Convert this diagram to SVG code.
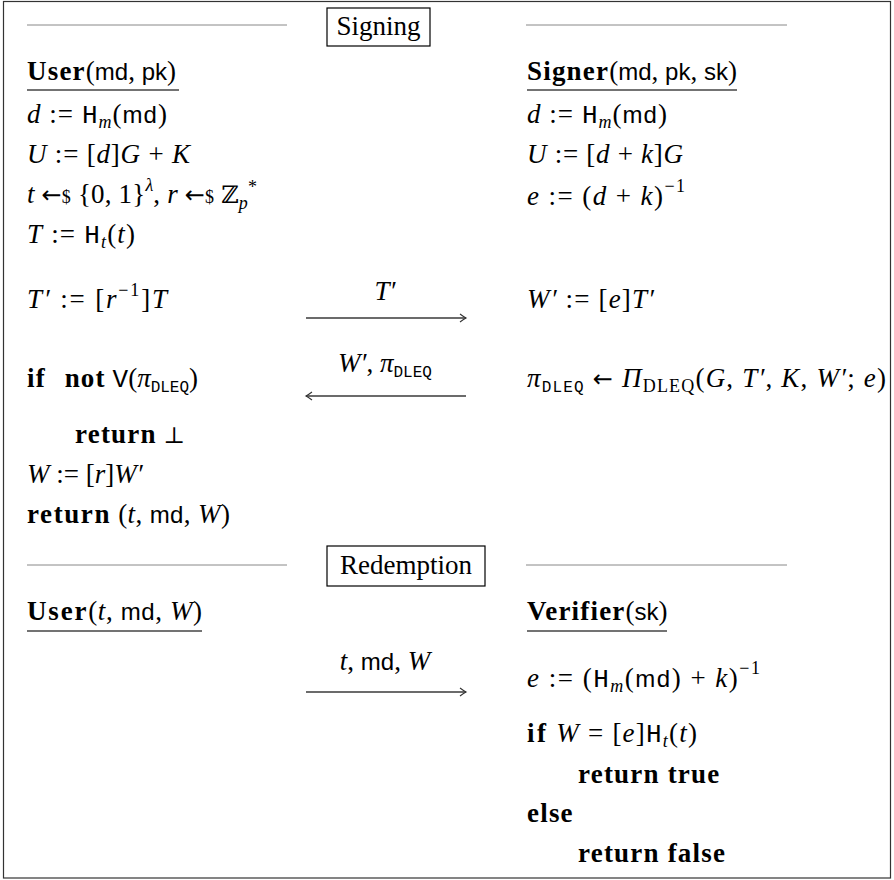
<svg xmlns="http://www.w3.org/2000/svg" width="894" height="880" viewBox="0 0 894 880">
<style>
.t{font-family:"Liberation Serif","DejaVu Serif",serif;font-size:27px;fill:#000}
.i{font-style:italic}
.b{font-weight:bold;letter-spacing:1.2px}
.sf{font-family:"Liberation Sans","DejaVu Sans",sans-serif;font-size:24px;font-style:normal}
.tt{font-family:"Liberation Mono","DejaVu Sans Mono",monospace;font-size:26px;font-style:normal}
.s{font-size:18px}
.ts{font-family:"Liberation Mono","DejaVu Sans Mono",monospace;font-size:16px;font-style:normal}
.bb{font-family:"DejaVu Serif",serif;font-size:24px}
.ar{font-family:"DejaVu Sans",sans-serif;font-size:24px;font-style:normal}
.sep{stroke:#888;stroke-width:1}
.ul{stroke:#444;stroke-width:1.4}
.box{fill:none;stroke:#000;stroke-width:1.2}
.arr{stroke:#3a3a3a;stroke-width:1.5;fill:none}
</style>
<defs>
<marker id="ah" viewBox="-8 -5 10 10" refX="0" refY="0" markerWidth="10" markerHeight="10" markerUnits="userSpaceOnUse" orient="auto">
<path d="M-6,-4 Q-2,-1 0,0 Q-2,1 -6,4" fill="none" stroke="#333" stroke-width="1.1"/>
</marker>
</defs>
<rect x="3.5" y="1.5" width="887" height="876.5" fill="#fff" stroke="#333" stroke-width="1.2"/>

<g id="header-signing">
<line class="sep" x1="27" y1="25" x2="287" y2="25"/>
<rect class="box" x="327" y="8" width="103" height="38"/>
<text class="t" x="378.5" y="35" text-anchor="middle">Signing</text>
<line class="sep" x1="526" y1="25" x2="787" y2="25"/>
</g>

<g id="user-signing">
<text class="t" x="27" y="80"><tspan class="b">User</tspan>(<tspan class="sf">md</tspan>, <tspan class="sf">pk</tspan>)</text>
<line class="ul" x1="27" y1="90" x2="179" y2="90"/>
<text class="t" x="27" y="123" textLength="140"><tspan class="i">d</tspan> := <tspan class="tt">H</tspan><tspan class="i s" dy="5">m</tspan><tspan dy="-5">(</tspan><tspan class="sf">md</tspan>)</text>
<text class="t" x="27" y="163" textLength="163"><tspan class="i">U</tspan> := [<tspan class="i">d</tspan>]<tspan class="i">G</tspan> + <tspan class="i">K</tspan></text>
<text class="t" x="27" y="203" textLength="230"><tspan class="i">t</tspan> <tspan class="ar">←</tspan><tspan class="s">$</tspan> {0, 1}<tspan class="i s" dy="-12">λ</tspan><tspan dy="12">, </tspan><tspan class="i">r</tspan> <tspan class="ar">←</tspan><tspan class="s">$</tspan> <tspan class="bb">ℤ</tspan><tspan class="i s" dy="6">p</tspan><tspan class="s" dy="-16">*</tspan></text>
<text class="t" x="27" y="243" textLength="108"><tspan class="i">T</tspan> := <tspan class="tt">H</tspan><tspan class="i s" dy="5">t</tspan><tspan dy="-5">(</tspan><tspan class="i">t</tspan>)</text>
<text class="t" x="27" y="308" textLength="140"><tspan class="i">T′</tspan> := [<tspan class="i">r</tspan><tspan class="s" dy="-12">−1</tspan><tspan dy="12">]</tspan><tspan class="i">T</tspan></text>
<text class="t" x="27" y="387"><tspan class="b">if</tspan> <tspan class="b" dx="12">not</tspan> <tspan class="tt">V</tspan>(<tspan class="i">π</tspan><tspan class="ts" dy="5">DLEQ</tspan><tspan dy="-5">)</tspan></text>
<text class="t" x="75" y="443"><tspan class="b">return</tspan> <tspan font-family="DejaVu Serif" font-size="23">⊥</tspan></text>
<text class="t" x="27" y="483"><tspan class="i">W</tspan> := [<tspan class="i">r</tspan>]<tspan class="i">W′</tspan></text>
<text class="t" x="27" y="523" textLength="203"><tspan class="b">return</tspan> (<tspan class="i">t</tspan>, <tspan class="sf">md</tspan>, <tspan class="i">W</tspan>)</text>
</g>

<g id="signer-signing">
<text class="t" x="527" y="80"><tspan class="b">Signer</tspan>(<tspan class="sf">md</tspan>, <tspan class="sf">pk</tspan>, <tspan class="sf">sk</tspan>)</text>
<line class="ul" x1="527" y1="90" x2="737" y2="90"/>
<text class="t" x="527" y="123" textLength="140"><tspan class="i">d</tspan> := <tspan class="tt">H</tspan><tspan class="i s" dy="5">m</tspan><tspan dy="-5">(</tspan><tspan class="sf">md</tspan>)</text>
<text class="t" x="527" y="163" textLength="156"><tspan class="i">U</tspan> := [<tspan class="i">d</tspan> + <tspan class="i">k</tspan>]<tspan class="i">G</tspan></text>
<text class="t" x="527" y="205" textLength="158"><tspan class="i">e</tspan> := (<tspan class="i">d</tspan> + <tspan class="i">k</tspan>)<tspan class="s" dy="-13">−1</tspan></text>
<text class="t" x="527" y="308" textLength="127"><tspan class="i">W′</tspan> := [<tspan class="i">e</tspan>]<tspan class="i">T′</tspan></text>
<text class="t" x="527" y="387" textLength="359"><tspan class="i">π</tspan><tspan class="ts" dy="5">DLEQ</tspan><tspan dy="-5"> </tspan><tspan class="ar">←</tspan> <tspan class="i">Π</tspan><tspan class="s" dy="5">DLEQ</tspan><tspan dy="-5">(</tspan><tspan class="i">G</tspan>, <tspan class="i">T′</tspan>, <tspan class="i">K</tspan>, <tspan class="i">W′</tspan>; <tspan class="i">e</tspan>)</text>
</g>

<g id="header-redemption">
<line class="sep" x1="27" y1="565" x2="287" y2="565"/>
<rect class="box" x="327" y="546" width="158" height="40"/>
<text class="t" x="406" y="574" text-anchor="middle">Redemption</text>
<line class="sep" x1="526" y1="565" x2="787" y2="565"/>
</g>

<g id="user-redemption">
<text class="t" x="27" y="620" textLength="175"><tspan class="b">User</tspan>(<tspan class="i">t</tspan>, <tspan class="sf">md</tspan>, <tspan class="i">W</tspan>)</text>
<line class="ul" x1="27" y1="631" x2="202" y2="631"/>
</g>

<g id="verifier-redemption">
<text class="t" x="527" y="620"><tspan class="b">Verifier</tspan>(<tspan class="sf">sk</tspan>)</text>
<line class="ul" x1="527" y1="631" x2="667" y2="631"/>
<text class="t" x="527" y="687" textLength="233"><tspan class="i">e</tspan> := (<tspan class="tt">H</tspan><tspan class="i s" dy="5">m</tspan><tspan dy="-5">(</tspan><tspan class="sf">md</tspan>) + <tspan class="i">k</tspan>)<tspan class="s" dy="-13">−1</tspan></text>
<text class="t" x="527" y="742" textLength="170"><tspan class="b">if</tspan> <tspan class="i">W</tspan> = [<tspan class="i">e</tspan>]<tspan class="tt">H</tspan><tspan class="i s" dy="5">t</tspan><tspan dy="-5">(</tspan><tspan class="i">t</tspan>)</text>
<text class="t b" x="578" y="783">return true</text>
<text class="t b" x="527" y="822">else</text>
<text class="t b" x="578" y="862">return false</text>
</g>

<g id="connectors">
<line class="arr" x1="306" y1="318" x2="466" y2="318" marker-end="url(#ah)"/>
<text class="t" x="385" y="300" text-anchor="middle"><tspan class="i">T′</tspan></text>
<line class="arr" x1="466" y1="396" x2="306" y2="396" marker-end="url(#ah)"/>
<text class="t" x="385" y="372" text-anchor="middle"><tspan class="i">W′</tspan>, <tspan class="i">π</tspan><tspan class="ts" dy="5">DLEQ</tspan></text>
<line class="arr" x1="306" y1="692" x2="466" y2="692" marker-end="url(#ah)"/>
<text class="t" x="385" y="670" text-anchor="middle"><tspan class="i">t</tspan>, <tspan class="sf">md</tspan>, <tspan class="i">W</tspan></text>
</g>
</svg>
